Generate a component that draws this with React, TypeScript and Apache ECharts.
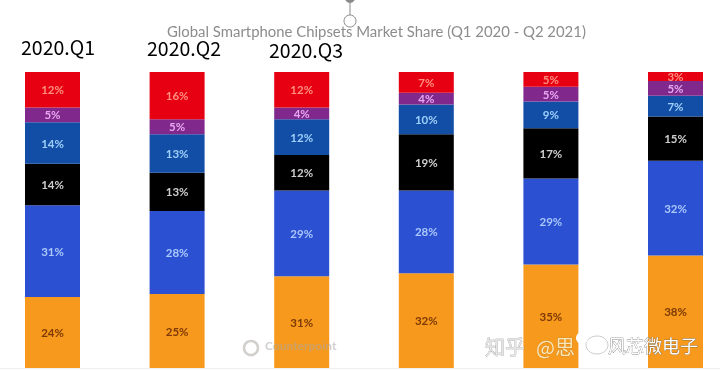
import React, { useEffect, useRef } from "react";
import * as echarts from "echarts";

const categories = ["2020.Q1", "2020.Q2", "2020.Q3", "2020.Q4", "2021.Q1", "2021.Q2"];
const orangeValues = [24, 25, 31, 32, 35, 38];
const royalValues = [31, 28, 29, 28, 29, 32];
const blackValues = [14, 13, 12, 19, 17, 15];
const navyValues = [14, 13, 12, 10, 9, 7];
const purpleValues = [5, 5, 4, 4, 5, 5];
const redValues = [12, 16, 12, 7, 5, 3];
const titleText = "Global Smartphone Chipsets Market Share (Q1 2020 - Q2 2021)";
const visibleQuarterLabels = ["2020.Q1", "2020.Q2", "2020.Q3"];

const stackSeries = [
  { name: "Orange", data: orangeValues, color: "#f7991c", label: "#7d3a06" },
  { name: "Royal blue", data: royalValues, color: "#2b50d2", label: "#aac8fa" },
  { name: "Black", data: blackValues, color: "#000000", label: "#cfcfcf" },
  { name: "Navy", data: navyValues, color: "#124ea6", label: "#9fd0fa" },
  { name: "Purple", data: purpleValues, color: "#80288c", label: "#e6a8f0" },
  { name: "Red", data: redValues, color: "#e60012", label: "#ff8f80" },
];

const OFFSET = 10;

export default function App() {
  const ref = useRef<HTMLDivElement>(null);
  useEffect(() => {
    document.body.style.margin = "0";
    const chart = echarts.init(ref.current!, null, { renderer: "svg" });
    const sans = "'Noto Sans CJK SC', 'Noto Sans', sans-serif";
    const lato = "Lato, 'Open Sans', sans-serif";
    const text = (t: string, x: number, y: number, style: object) => ({
      type: "text",
      x,
      y,
      z: 100,
      style: { text: t, verticalAlign: "middle", ...style },
    });
    chart.setOption({
      animation: false,
      backgroundColor: "#ffffff",
      title: {
        text: titleText,
        left: 167 + OFFSET,
        top: 24,
        padding: 0,
        textStyle: { color: "#8c8c8c", fontSize: 14.9, lineHeight: 13, fontWeight: "normal", fontFamily: lato },
      },
      grid: { left: 0.2, width: 747.6, top: 72, height: 296 },
      xAxis: {
        type: "category",
        data: categories,
        axisLabel: { show: false },
        axisTick: { show: false },
        axisLine: { show: true, lineStyle: { color: "#eeeeee", width: 1 } },
      },
      yAxis: { type: "value", min: 0, max: 100, show: false },
      series: stackSeries.map((s) => ({
        name: s.name,
        type: "bar",
        stack: "share",
        barWidth: 55,
        data: s.data,
        itemStyle: { color: s.color },
        label: {
          show: true,
          position: "inside",
          formatter: "{c}%",
          color: s.label,
          fontSize: 11.5,
          lineHeight: 10,
          fontWeight: "bold",
          fontFamily: lato,
        },
      })),
      graphic: [
        {
          type: "group",
          x: OFFSET,
          y: 0,
          children: [
            ...visibleQuarterLabels.map((t, i) =>
              text(t, [21, 147, 269][i], [46, 47, 49][i], { fill: "#000000", fontSize: 19.5, lineHeight: 15, fontFamily: sans })
            ),
            { type: "line", z: 100, shape: { x1: 350, y1: 2, x2: 350, y2: 15 }, style: { stroke: "#8a8a8a", lineWidth: 1 } },
            { type: "circle", z: 100, shape: { cx: 350, cy: -2, r: 5 }, style: { fill: "#8a8a8a" } },
            { type: "circle", z: 100, shape: { cx: 350, cy: 21, r: 6 }, style: { fill: "#ffffff", stroke: "#8a8a8a", lineWidth: 1 } },
            { type: "circle", z: 100, shape: { cx: 251, cy: 348, r: 7 }, style: { fill: "none", stroke: "#d2d0cc", lineWidth: 2.5 } },
            text("Counterpoint", 265, 345, { fill: "rgba(170,170,170,0.55)", fontSize: 12, fontWeight: "bold", fontFamily: lato }),
            text("知乎", 485, 346, { fill: "#e4e4e4", stroke: "#9a9a9a", lineWidth: 0.5, fontSize: 20, fontFamily: sans }),
            text("@思", 536, 346, { fill: "#fbe6b8", stroke: "#b8802c", lineWidth: 0.5, fontSize: 20, fontFamily: sans }),
            { type: "ellipse", z: 100, shape: { cx: 597, cy: 345, rx: 11, ry: 9 }, style: { fill: "#ffffff", stroke: "#999999", lineWidth: 0.5 } },
            { type: "ellipse", z: 100, shape: { cx: 582, cy: 338, rx: 6, ry: 6 }, style: { fill: "#ffffff" } },
            text("风芯微电子", 608, 345, { fill: "#ffffff", stroke: "#555555", lineWidth: 0.5, fontSize: 18, fontFamily: sans }),
          ],
        },
      ],
    });
    return () => chart.dispose();
  }, []);
  return (
    <div style={{ width: 720, height: 376, overflow: "hidden", position: "relative" }}>
      <div ref={ref} style={{ width: 748, height: 376, marginLeft: -OFFSET, filter: "blur(0.5px)" }} />
    </div>
  );
}
